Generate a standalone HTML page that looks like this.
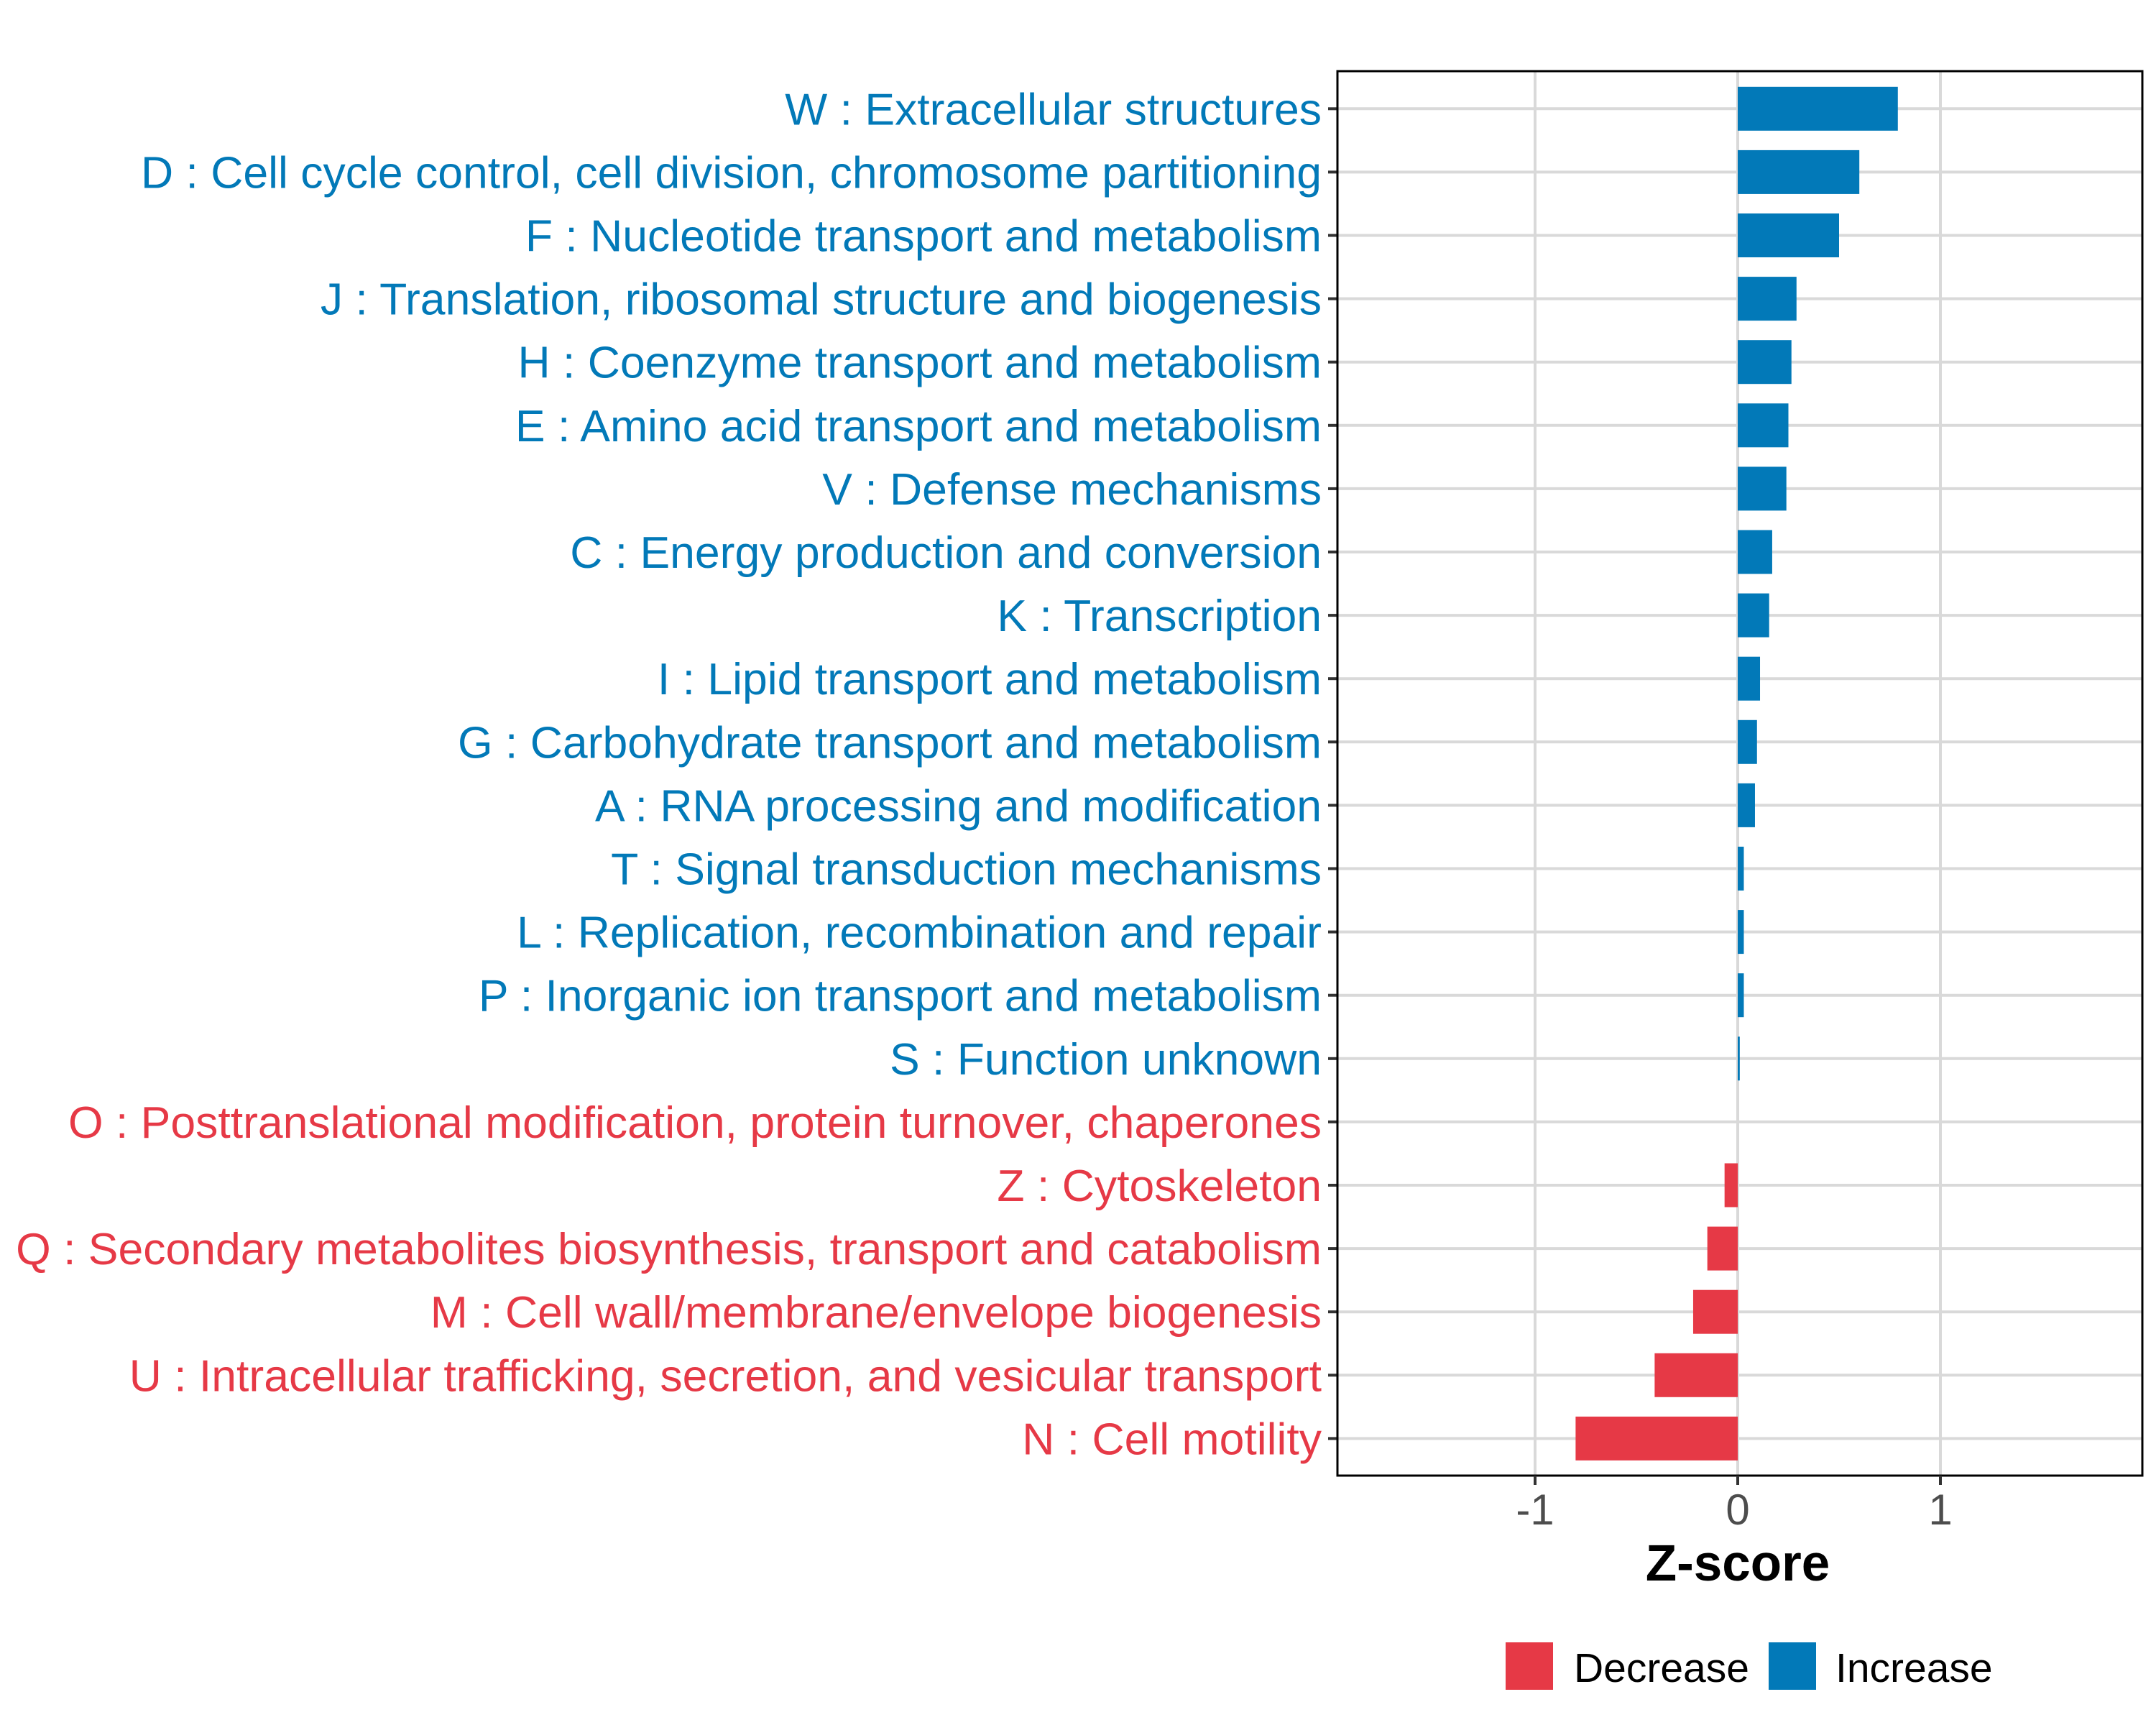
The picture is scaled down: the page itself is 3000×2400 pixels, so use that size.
<!DOCTYPE html>
<html><head><meta charset="utf-8"><style>
html,body{margin:0;padding:0;background:#fff;}
svg{display:block;font-family:"Liberation Sans",Arial,sans-serif;}
</style></head><body>
<svg id="chart" width="3000" height="2400" viewBox="0 0 3000 2400">
<rect x="0" y="0" width="3000" height="2400" fill="#fff"/>
<g id="grid"></g><g id="bars"></g><g id="axes"></g>
</svg>
<script>
const categories=["W : Extracellular structures","D : Cell cycle control, cell division, chromosome partitioning","F : Nucleotide transport and metabolism","J : Translation, ribosomal structure and biogenesis","H : Coenzyme transport and metabolism","E : Amino acid transport and metabolism","V : Defense mechanisms","C : Energy production and conversion","K : Transcription","I : Lipid transport and metabolism","G : Carbohydrate transport and metabolism","A : RNA processing and modification","T : Signal transduction mechanisms","L : Replication, recombination and repair","P : Inorganic ion transport and metabolism","S : Function unknown","O : Posttranslational modification, protein turnover, chaperones","Z : Cytoskeleton","Q : Secondary metabolites biosynthesis, transport and catabolism","M : Cell wall/membrane/envelope biogenesis","U : Intracellular trafficking, secretion, and vesicular transport","N : Cell motility"];
const zscores=[0.79,0.60,0.50,0.29,0.265,0.25,0.24,0.17,0.155,0.11,0.095,0.085,0.03,0.03,0.03,0.01,0.0,-0.065,-0.15,-0.22,-0.41,-0.80];
const xTicks=[-1,0,1];
const xTickLabels=["-1","0","1"];
const legendLabels=["Decrease","Increase"];

const NS="http://www.w3.org/2000/svg";
const BLUE="#0279b8",RED="#e63946";
const PL=1861,PR=2981,PT=99,PB=2053;
const X0=2418,UNIT=282;
const xs=v=>X0+v*UNIT;
const rowY0=151.3,rowStep=88.1;
const ys=i=>rowY0+i*rowStep;
const barH=61;
function mk(tag,attrs,parent){const e=document.createElementNS(NS,tag);for(const k in attrs)e.setAttribute(k,attrs[k]);parent.appendChild(e);return e;}
const grid=document.getElementById('grid'),bars=document.getElementById('bars'),axes=document.getElementById('axes');

const bg=mk('rect',{x:PL,y:PT,width:PR-PL,height:PB-PT,fill:'#fff'},grid);


xTicks.forEach((t,i)=>{
  const l=mk('line',{x1:xs(t),x2:xs(t),y1:PT,y2:PB,stroke:'#d9d9d9','stroke-width':4},grid);
  
  
});
categories.forEach((c,i)=>{
  const l=mk('line',{x1:PL,x2:PR,y1:ys(i),y2:ys(i),stroke:'#d9d9d9','stroke-width':4},grid);
  
  
});
categories.forEach((c,i)=>{
  const v=zscores[i];
  const x1=Math.min(xs(0),xs(v)),w=Math.abs(xs(v)-xs(0));
  const r=mk('rect',{x:x1,y:ys(i)-barH/2,width:w,height:barH,fill:v<0?RED:BLUE},bars);
  
  
  const t=mk('text',{x:1839,y:ys(i)+22,'text-anchor':'end','font-size':62.5,fill:v<=0?RED:BLUE},axes);
  t.textContent=c;
  
  
  const tk=mk('line',{x1:PL-13,x2:PL,y1:ys(i),y2:ys(i),stroke:'#333','stroke-width':4},axes);
  
  
});
const border=mk('rect',{x:PL,y:PT,width:PR-PL,height:PB-PT,fill:'none',stroke:'#000','stroke-width':3},axes);


xTicks.forEach((t,i)=>{
  const tk=mk('line',{x1:xs(t),x2:xs(t),y1:PB,y2:PB+13,stroke:'#333','stroke-width':4},axes);
  
  
  const tl=mk('text',{x:xs(t),y:2121,'text-anchor':'middle','font-size':60,fill:'#4d4d4d'},axes);
  tl.textContent=xTickLabels[i];
  
  
});
const title=mk('text',{x:xs(0),y:2199,'text-anchor':'middle','font-size':71,'font-weight':'bold',fill:'#000'},axes);
title.textContent="Z-score";


const legendColors=[RED,BLUE];
const keyX=[2095,2461],txtX=[2190,2554];
legendLabels.forEach((lab,i)=>{
  const k=mk('rect',{x:keyX[i],y:2285,width:66,height:66,fill:legendColors[i]},axes);
  
  
  const t=mk('text',{x:txtX[i],y:2340,'font-size':57,fill:'#000'},axes);
  t.textContent=lab;
  
  
});
</script>
</body></html>
